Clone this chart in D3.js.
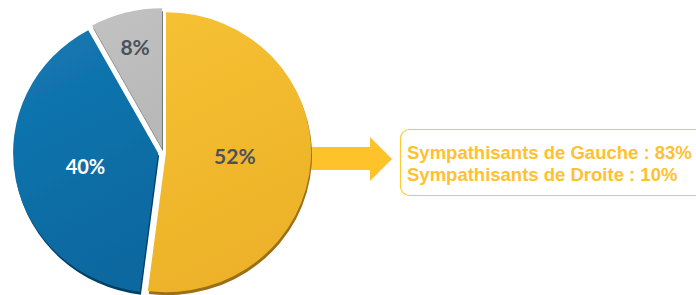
<!DOCTYPE html>
<html>
<head>
<meta charset="utf-8">
<script src="https://cdnjs.cloudflare.com/ajax/libs/d3/7.8.5/d3.min.js"></script>
<style>
  html, body { margin: 0; padding: 0; background: #fff; }
  svg { display: block; }
</style>
</head>
<body>
<div id="chart"></div>
<script>
// ---- data ----
const labels = ["52%", "40%", "8%"];
const values = [52, 40, 8];
const notes = ["Sympathisants de Gauche : 83%", "Sympathisants de Droite : 10%"];

// ---- style ----
const fills = [["#F6C132", "#EDB22A"], ["#1479B2", "#0A68A0"], ["#C2C2C2", "#B8B8B8"]];
const labelColors = ["#4B525C", "#FFFFFF", "#4B525C"];
const labelSizes = [21, 20, 21];
const labelR = [0.476, 0.51, 0.745];
const explode = [3, 5, 4];
const W = 696, H = 295;
const cx = 163, cy = 152, rx = 145, ry = 140;

const svg = d3.select("#chart").append("svg")
	.attr("width", W)
	.attr("height", H);

const defs = svg.append("defs");

// darker copy of the slice underneath, shifted down -> 3D rim
const f = defs.append("filter").attr("id", "rim")
	.attr("x", "-10%").attr("y", "-10%").attr("width", "120%").attr("height", "120%");
f.append("feColorMatrix").attr("in", "SourceGraphic").attr("type", "matrix")
	.attr("values", "0.38 0 0 0 0  0 0.36 0 0 0  0 0 0.36 0 0  0 0 0 1 0").attr("result", "dark");
f.append("feOffset").attr("in", "dark").attr("dx", 1).attr("dy", 3).attr("result", "o");
f.append("feGaussianBlur").attr("in", "o").attr("stdDeviation", 0.6).attr("result", "b");
const m = f.append("feMerge");
m.append("feMergeNode").attr("in", "b");
m.append("feMergeNode").attr("in", "SourceGraphic");

fills.forEach((c, i) => {
	const g = defs.append("linearGradient").attr("id", "grad" + i)
		.attr("x1", "0%").attr("y1", "0%").attr("x2", "30%").attr("y2", "100%");
	g.append("stop").attr("offset", "0%").attr("stop-color", c[0]);
	g.append("stop").attr("offset", "100%").attr("stop-color", c[1]);
});

const pie = d3.pie().sort(null).value(d => d)(values);
const arc = d3.arc().innerRadius(0).outerRadius(rx);

// arrow (behind the pie)
const arrow = d3.path();
arrow.moveTo(295, 147);
arrow.lineTo(370, 147);
arrow.lineTo(370, 137);
arrow.lineTo(392, 159);
arrow.lineTo(370, 181);
arrow.lineTo(370, 170);
arrow.lineTo(295, 170);
arrow.closePath();
svg.append("path").attr("d", arrow.toString()).attr("fill", "#FEC22A");

const pieG = svg.append("g")
	.attr("transform", `translate(${cx},${cy}) scale(1,${ry / rx})`);

// gray and blue first, yellow last
[2, 1, 0].forEach(i => {
	const d = pie[i];
	const mid = (d.startAngle + d.endAngle) / 2;
	const dx = Math.sin(mid) * explode[i], dy = -Math.cos(mid) * explode[i];
	pieG.append("path")
		.attr("d", arc(d))
		.attr("transform", `translate(${dx},${dy})`)
		.attr("fill", `url(#grad${i})`)
		.attr("filter", "url(#rim)");
});

// slice labels
pie.forEach((d, i) => {
	const mid = (d.startAngle + d.endAngle) / 2;
	const r = rx * labelR[i] + explode[i];
	svg.append("text")
		.attr("x", cx + Math.sin(mid) * r)
		.attr("y", cy - Math.cos(mid) * r * ry / rx + 7.5)
		.attr("text-anchor", "middle")
		.attr("font-family", "Lato, 'Open Sans', sans-serif")
		.attr("font-weight", "bold")
		.attr("font-size", labelSizes[i])
		.attr("fill", labelColors[i])
		.text(labels[i]);
});

// note box
svg.append("rect")
	.attr("x", 400.5).attr("y", 129.5)
	.attr("width", 320).attr("height", 66)
	.attr("rx", 9)
	.attr("fill", "#fff")
	.attr("stroke", "#FFC935")
	.attr("stroke-width", 1.2);

svg.selectAll(".note")
	.data(notes)
	.enter()
	.append("text")
	.attr("class", "note")
	.attr("x", 407)
	.attr("y", (d, i) => 159 + i * 22)
	.attr("font-family", "'Liberation Sans', Arial, sans-serif")
	.attr("font-weight", "bold")
	.attr("font-size", 18.5)
	.attr("fill", "#FFC12E")
	.text(d => d);
</script>
</body>
</html>
